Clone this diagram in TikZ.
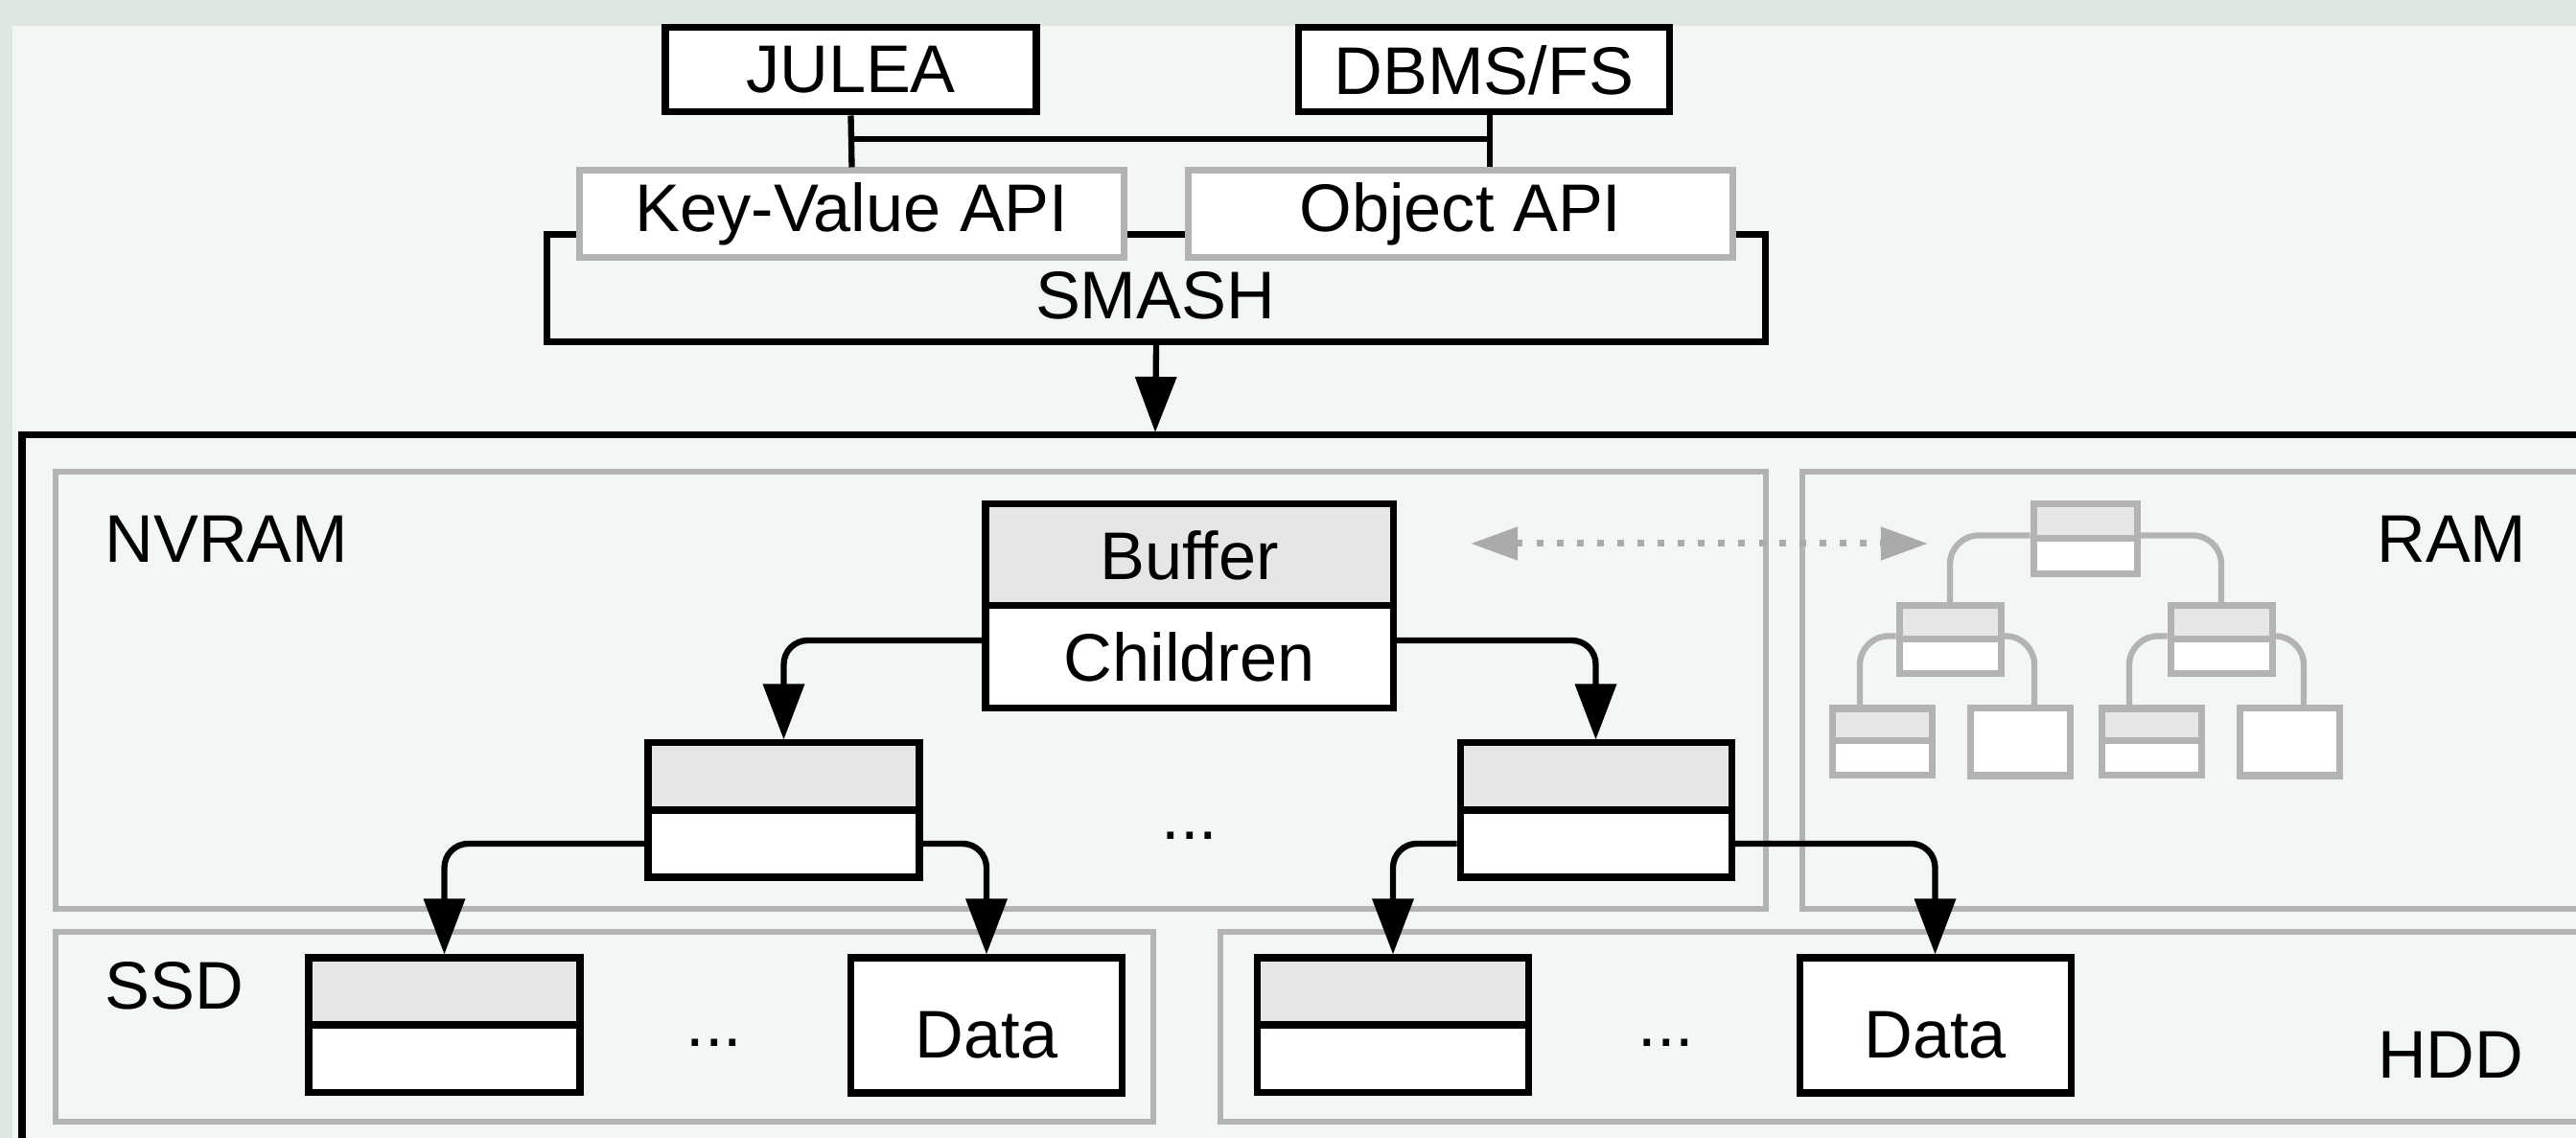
\documentclass[tikz,border=0pt]{standalone}
\usepackage{fontspec}
\setmainfont{Liberation Sans}
\usetikzlibrary{arrows.meta,calc}
\definecolor{bgout}{HTML}{DFE8E0}
\definecolor{bgin}{HTML}{F2F7F3}
\definecolor{rimgray}{HTML}{B3B3B3}
\definecolor{cellgray}{HTML}{E6E6E6}

\begin{document}
\begin{tikzpicture}
[line width=2pt, >={Triangle[length=16.5pt,width=12pt]},
font=\fontsize{20}{24}\selectfont,
api/.style={rectangle, draw=black, fill=white, inner sep=0pt, minimum height=8.8mm, minimum width=38.7mm},
apig/.style={api, draw=rimgray, minimum height=9.1mm, minimum width=56.8mm},
tier/.style={draw=rimgray, line width=1.7pt},
tag/.style={inner sep=0pt},
head/.style={rectangle, draw, fill=cellgray, inner sep=0pt, minimum width=28.3mm, minimum height=7mm},
body/.style={head, fill=white},
datum/.style={body, minimum height=14.1mm, text height=19.5pt},
link/.style={->, line width=1.8pt, rounded corners=2.5mm},
thead/.style={rectangle, draw=rimgray, fill=cellgray, inner sep=0pt, minimum width=10.6mm, minimum height=3.5mm},
tbody/.style={thead, fill=white, minimum height=3.6mm},
tlink/.style={draw=rimgray, line width=1.8pt, rounded corners=3mm},
sync/.style={{Triangle[length=14pt,width=9.5pt]}-{Triangle[length=14pt,width=9.5pt]}, draw=rimgray!95!black, line width=2pt, dash pattern=on 2pt off 4pt}]

\useasboundingbox (0,0) rectangle (26.87,11.87);
\clip (0,0) rectangle (26.87,11.87);
\fill[bgout] (0,0) rectangle (26.87,11.87);
\fill[bgin] (0.13,0) rectangle (26.87,11.60);

% storage tiers
\draw (0.23,-1) rectangle (28,7.33);
\draw[tier] (0.58,2.39) rectangle (18.42,6.95);
\draw[tier] (18.80,2.39) rectangle (28,6.95);
\draw[tier] (0.58,0.17) rectangle (12.03,2.15);
\draw[tier] (12.73,0.17) rectangle (28,2.15);

\node[tag, anchor=west] (nvram) at (1.06,6.25) {NVRAM};
\node[tag, anchor=east] (ram) at (26.39,6.25) {RAM};
\node[tag, anchor=west] (ssd) at (1.06,1.59) {SSD};
\node[tag, anchor=east] (hdd) at (26.36,0.87) {HDD};

% SMASH and its APIs
\node[draw, rectangle, inner sep=0pt, minimum width=127.15mm, minimum height=11.2mm] (smash) at (12.06,8.865) {};
\node (smashtxt) at (12.05,8.79) {SMASH};
\node[apig] (kv) at (8.885,9.635) {Key-Value API};
\node[apig] (obj) at (15.235,9.635) {Object API};

\node[api] (julea) at (8.875,11.14) {JULEA};
\node[api] (dbms) at (15.48,11.14) {DBMS/FS};

\coordinate (jbar) at (8.88,10.42);
\coordinate (dbar) at (15.54,10.42);
\draw[line width=1.8pt] (julea.south) -- (kv.north);
\draw[line width=1.8pt] (dbar |- dbms.south) -- (dbar |- obj.north);
\draw[line width=1.8pt] (julea.south |- jbar) -- (dbar);

\coordinate (store) at (12.05,7.36);
\draw[->, line width=1.8pt] (smash.south) -- (store);

% tree on NVRAM, SSD and HDD
\node[head, minimum width=42.5mm, minimum height=10.6mm] (buf) at (12.405,6.08) {Buffer};
\node[body, minimum width=42.5mm, minimum height=10.7mm] (kids) at (12.405,5.015) {Children};

\node[head] (n1a) at (8.175,3.77) {};
\node[body] (n1b) at (8.175,3.07) {};
\node[head] (n2a) at (16.645,3.77) {};
\node[body] (n2b) at (16.645,3.07) {};
\node[anchor=base] (dn) at (12.41,3.11) {...};

\node[head] (s1a) at (4.635,1.53) {};
\node[body] (s1b) at (4.635,0.825) {};
\node[anchor=base] (ds) at (7.45,0.95) {...};
\node[datum] (sd) at (10.29,1.175) {Data};

\node[head] (h1a) at (14.53,1.53) {};
\node[body] (h1b) at (14.53,0.825) {};
\node[anchor=base] (dh) at (17.38,0.95) {...};
\node[datum] (hd) at (20.185,1.175) {Data};

\draw[link] ([yshift=1.75mm]kids.west) -| (n1a.north);
\draw[link] ([yshift=1.75mm]kids.east) -| (n2a.north);
\draw[link] (n1b.west) -| (s1a.north);
\draw[link] (n1b.east) -| (sd.north);
\draw[link] (n2b.west) -| (h1a.north);
\draw[link] (n2b.east) -| (hd.north);

% tree in RAM
\node[thead, minimum width=10.8mm, minimum height=3.6mm] (t0a) at (21.75,6.43) {};
\node[tbody, minimum width=10.8mm, minimum height=3.7mm] (t0b) at (21.75,6.065) {};
\node[thead] (m1a) at (20.34,5.375) {};
\node[tbody] (m1b) at (20.34,5.02) {};
\node[thead] (m2a) at (23.17,5.375) {};
\node[tbody] (m2b) at (23.17,5.02) {};

\node[thead, minimum width=10.4mm, minimum height=3.4mm] (b1a) at (19.63,4.31) {};
\node[tbody, minimum width=10.4mm] (b1b) at (19.63,3.96) {};
\node[tbody, minimum width=10.4mm, minimum height=7mm] (b2) at (21.07,4.13) {};
\node[thead, minimum width=10.4mm, minimum height=3.4mm] (b3a) at (22.44,4.31) {};
\node[tbody, minimum width=10.4mm] (b3b) at (22.44,3.96) {};
\node[tbody, minimum width=10.4mm, minimum height=7mm] (b4) at (23.88,4.13) {};

\draw[tlink] (t0b.north west) -| (m1a.north);
\draw[tlink] (t0b.north east) -| (m2a.north);
\draw[tlink] (m1b.north west) -| ([xshift=-2.3mm]b1a.north);
\draw[tlink] (m1b.north east) -| ([xshift=1.5mm]b2.north);
\draw[tlink] (m2b.north west) -| ([xshift=-2.3mm]b3a.north);
\draw[tlink] (m2b.north east) -| ([xshift=1.5mm]b4.north);

\coordinate (syncl) at (15.34,6.20);
\coordinate (syncr) at (20.11,6.20);
\draw[sync] (syncl) -- (syncr);
\end{tikzpicture}
\end{document}
